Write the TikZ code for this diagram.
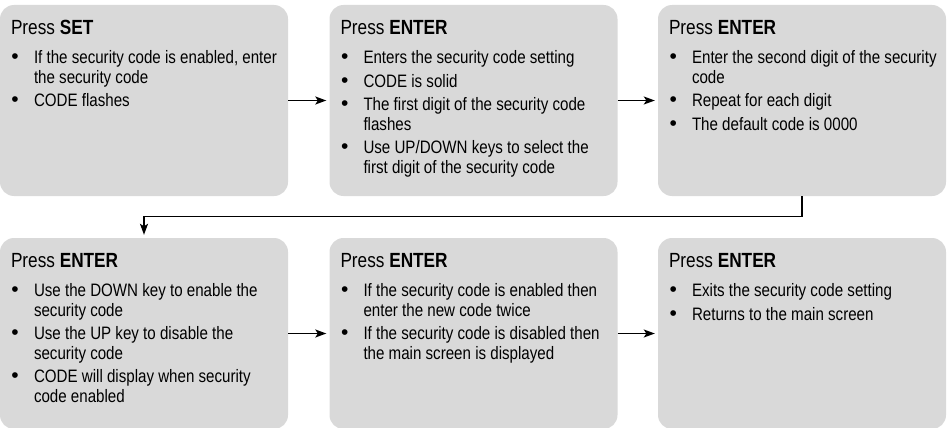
\documentclass[tikz,border=0pt]{standalone}
\usepackage{fontspec}
\setmainfont{Liberation Sans}[FakeStretch=0.84]
\newfontfamily\dotfont{Liberation Sans}
\usetikzlibrary{arrows.meta}

\definecolor{boxgray}{RGB}{217,217,217}

% text of one step: title and bullet list
\newcommand{\stepcontent}[2]{\parbox[c][160pt][t]{266pt}{\raggedright
  \rightskip=-12pt plus 2em
  \fontsize{20.5}{22}\selectfont Press \textbf{#1}\par
  \fontsize{18}{19.5}\selectfont\vspace{5.5pt}#2}}
\newcommand{\pitem}[1]{\par\vspace{4pt}\hangindent=23pt\hangafter=1\noindent
  \makebox[23pt][l]{\hspace{0.5pt}{\dotfont\fontsize{21}{19.5}\selectfont\textbullet}}#1}

\begin{document}
\begin{tikzpicture}[
    x=1pt, y=1pt,
    >={Stealth[length=11pt,width=8pt,inset=2.5pt]},
    stepbox/.style={
      rectangle,
      fill=boxgray,
      rounded corners=14pt,
      inner xsep=11pt,
      inner ysep=15.5pt
    },
    flow/.style={
      ->,
      draw,
      line width=1.4pt,
      shorten >=3pt
    },
  ]
  \useasboundingbox (0,0) rectangle (947,-428);

  %%%%%%%%%%%%%%%% STEPS %%%%%%%%%%%%%%%%
  \node[stepbox] (pressset) at (144,-100.5) {\stepcontent{SET}{%
    \pitem{If the security code is enabled, enter\newline the security code}
    \pitem{CODE flashes}}};

  \node[stepbox] (codesetting) at (473.5,-100.5) {\stepcontent{ENTER}{%
    \pitem{Enters the security code setting}
    \pitem{CODE is solid}
    \pitem{The first digit of the security code\newline flashes}
    \pitem{Use UP/DOWN keys to select the\newline first digit of the security code}}};

  \node[stepbox] (nextdigit) at (802,-100.5) {\stepcontent{ENTER}{%
    \pitem{Enter the second digit of the security\newline code}
    \pitem{Repeat for each digit}
    \pitem{The default code is 0000}}};

  \node[stepbox] (enablecode) at (144,-333.5) {\stepcontent{ENTER}{%
    \pitem{Use the DOWN key to enable the\newline security code}
    \pitem{Use the UP key to disable the\newline security code}
    \pitem{CODE will display when security\newline code enabled}}};

  \node[stepbox] (newcode) at (473.5,-333.5) {\stepcontent{ENTER}{%
    \pitem{If the security code is enabled then\newline enter the new code twice}
    \pitem{If the security code is disabled then\newline the main screen is displayed}}};

  \node[stepbox] (exitsetting) at (802,-333.5) {\stepcontent{ENTER}{%
    \pitem{Exits the security code setting}
    \pitem{Returns to the main screen}}};

  %%%%%%%%%%%%%%%% PATHS %%%%%%%%%%%%%%%%
  \path[flow] (pressset) -- (codesetting);
  \path[flow] (codesetting) -- (nextdigit);
  \path[flow] (nextdigit.south) -- ++(0,-20) -| (enablecode.north);
  \path[flow] (enablecode) -- (newcode);
  \path[flow] (newcode) -- (exitsetting);

\end{tikzpicture}
\end{document}
